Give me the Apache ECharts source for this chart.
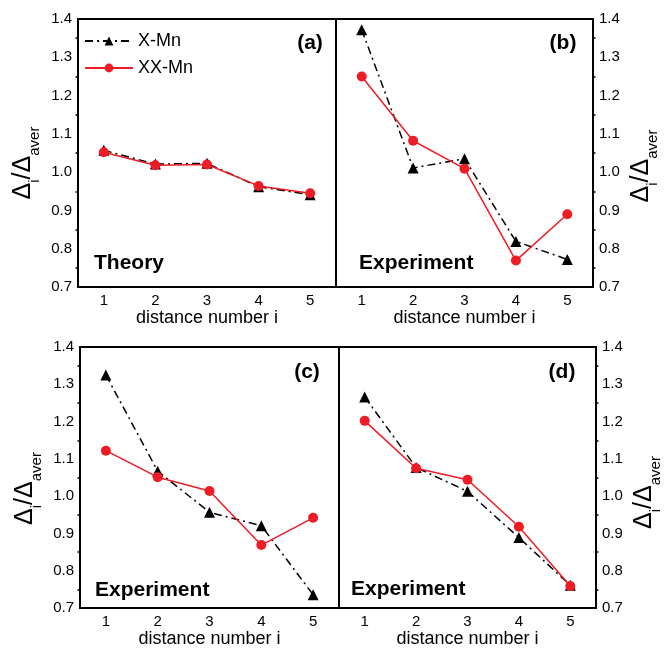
<!DOCTYPE html>
<html>
<head>
<meta charset="utf-8">
<script src="https://cdn.jsdelivr.net/npm/echarts@6/dist/echarts.min.js"></script>
<style>
  html, body { margin: 0; padding: 0; background: #fff; }
  #chart { width: 666px; height: 649px; }
</style>
</head>
<body>
<div id="chart"></div>
<script>
// distance number i
const cats = ['1', '2', '3', '4', '5'];

// values
const xmnA = [1.057, 1.021, 1.023, 0.962, 0.941];
const xxmnA = [1.052, 1.018, 1.020, 0.964, 0.945];
const xmnB = [1.372, 1.011, 1.035, 0.819, 0.772];
const xxmnB = [1.250, 1.082, 1.009, 0.769, 0.890];
const xmnC = [1.325, 1.067, 0.957, 0.921, 0.736];
const xxmnC = [1.122, 1.051, 1.014, 0.869, 0.942];
const xmnD = [1.266, 1.077, 1.013, 0.889, 0.761];
const xxmnD = [1.202, 1.075, 1.044, 0.918, 0.759];

const xmnSets = [xmnA, xmnB, xmnC, xmnD];
const xxmnSets = [xxmnA, xxmnB, xxmnC, xxmnD];
const panelTags = ['(a)', '(b)', '(c)', '(d)'];
const panelNotes = ['Theory', 'Experiment', 'Experiment', 'Experiment'];
const seriesNames = ['X-Mn', 'XX-Mn'];

const FONT = '"Liberation Sans", Arial, sans-serif';
const RED = '#ee1c24';

const grids = [
    { left: 78, top: 19, width: 258, height: 268 },
    { left: 336, top: 19, width: 257, height: 268 },
    { left: 80, top: 347, width: 259, height: 265 },
    { left: 339, top: 347, width: 257, height: 265 },
];
const sides = ['left', 'right', 'left', 'right'];
// the y names sit a little below the middle of each panel
const nameShift = [20, 26, 22, 30];

const chart = echarts.init(document.getElementById('chart'));

const xAxis = [];
const yAxis = [];
const series = [];

grids.forEach((g, i) => {
    // main x axis: labels + major ticks at the numbers
    xAxis.push({
        type: 'category',
        gridIndex: i,
        data: cats,
        position: 'bottom',
        boundaryGap: true,
        name: 'distance number i',
        nameLocation: 'middle',
        nameGap: 21,
        nameTextStyle: { fontFamily: FONT, fontSize: 18, color: '#000' },
        axisLine: { onZero: false, lineStyle: { color: '#000', width: 2 } },
        axisTick: { alignWithLabel: true, length: 4, lineStyle: { color: '#000', width: 1.5 } },
        axisLabel: { fontFamily: FONT, fontSize: 15, color: '#000', margin: 6 },
        splitLine: { show: false },
    });
    // second x axis only for the minor ticks between numbers
    xAxis.push({
        type: 'category',
        gridIndex: i,
        data: cats,
        position: 'bottom',
        boundaryGap: true,
        axisLine: { show: false, onZero: false },
        axisTick: { length: 2.5, lineStyle: { color: '#000', width: 1.5 } },
        axisLabel: { show: false },
        splitLine: { show: false },
    });
    yAxis.push({
        type: 'value',
        gridIndex: i,
        position: sides[i],
        min: 0.7,
        max: 1.4,
        interval: 0.1,
        name: '{d|Δ}{s|i}{d|/Δ}{s|aver}',
        nameLocation: 'middle',
        nameRotate: 90,
        nameGap: 36,
        nameTextStyle: {
            fontFamily: FONT,
            color: '#000',
            padding: [0, nameShift[i], 0, 0],
            rich: {
                d: { fontFamily: FONT, fontSize: 25, color: '#000', verticalAlign: 'bottom', padding: [0, 0, 6, 0] },
                s: { fontFamily: FONT, fontSize: 15, color: '#000', verticalAlign: 'bottom' },
            },
        },
        axisLine: { show: true, onZero: false, lineStyle: { color: '#000', width: 2 } },
        axisTick: { length: 4, lineStyle: { color: '#000', width: 1.5 } },
        minorTick: { show: true, splitNumber: 2, length: 2.5, lineStyle: { color: '#000', width: 1.5 } },
        axisLabel: { fontFamily: FONT, fontSize: 15, color: '#000', margin: 6, formatter: v => v.toFixed(1) },
        splitLine: { show: false },
        minorSplitLine: { show: false },
    });

    series.push({
        name: seriesNames[0],
        type: 'line',
        xAxisIndex: 2 * i,
        yAxisIndex: i,
        data: xmnSets[i],
        symbol: 'triangle',
        symbolSize: 11,
        itemStyle: { color: '#000' },
        lineStyle: { color: '#000', width: 1.5, type: [8, 4, 2, 4] },
        animation: false,
    });
    series.push({
        name: seriesNames[1],
        type: 'line',
        xAxisIndex: 2 * i,
        yAxisIndex: i,
        data: xxmnSets[i],
        symbol: 'circle',
        symbolSize: 10,
        itemStyle: { color: RED },
        lineStyle: { color: RED, width: 1.5 },
        animation: false,
    });
});

// panel tags and notes
const tagPos = [[310, 43], [563, 43], [307, 372], [562, 372]];
const notePos = [[94, 263], [359, 263], [95, 590], [351, 589]];
const graphic = [];
panelTags.forEach((t, i) => {
    graphic.push({
        type: 'text', x: tagPos[i][0], y: tagPos[i][1],
        style: { text: t, font: 'bold 21px ' + FONT, fill: '#000', align: 'center', verticalAlign: 'middle' },
    });
    graphic.push({
        type: 'text', x: notePos[i][0], y: notePos[i][1],
        style: { text: panelNotes[i], font: 'bold 21px ' + FONT, fill: '#000', align: 'left', verticalAlign: 'middle' },
    });
});

const option = {
    backgroundColor: '#fff',
    animation: false,
    grid: grids.map(g => ({ ...g, show: true, borderColor: '#000', borderWidth: 2, backgroundColor: 'transparent' })),
    xAxis,
    yAxis,
    series,
    legend: {
        data: seriesNames,
        orient: 'vertical',
        left: 79,
        top: 27,
        itemWidth: 48,
        itemHeight: 11,
        itemGap: 9,
        textStyle: { fontFamily: FONT, fontSize: 18, color: '#000' },
    },
    graphic,
};

chart.setOption(option);
</script>
</body>
</html>
